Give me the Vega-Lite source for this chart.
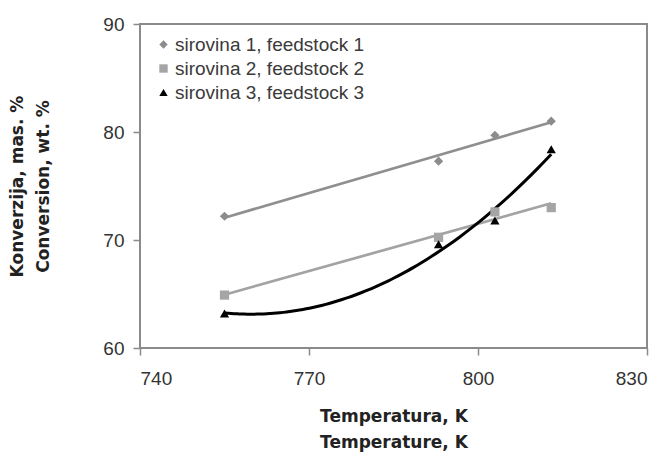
{
  "$schema": "https://vega.github.io/schema/vega-lite/v6.json",
  "autosize": "none",
  "width": 507,
  "height": 324,
  "padding": {"left": 140, "top": 24, "right": 19, "bottom": 112},
  "background": "white",
  "config": {
    "font": "Liberation Sans",
    "view": {"stroke": "#8a8a8a", "strokeWidth": 2},
    "axis": {"grid": false, "domain": false, "ticks": true, "tickColor": "#8a8a8a", "tickSize": 7, "tickWidth": 1.5, "labelFont": "Liberation Sans", "labelFontSize": 19, "labelColor": "#333333", "titleFont": "DejaVu Sans", "titleFontSize": 17, "titleFontWeight": "bold", "titleColor": "#222222", "titleLineHeight": 26}
  },
  "data": {"values": [
    {"T": 755, "conv": 72.2, "series": "sirovina 1, feedstock 1"},
    {"T": 793, "conv": 77.3, "series": "sirovina 1, feedstock 1"},
    {"T": 803, "conv": 79.7, "series": "sirovina 1, feedstock 1"},
    {"T": 813, "conv": 81.0, "series": "sirovina 1, feedstock 1"},
    {"T": 755, "conv": 64.9, "series": "sirovina 2, feedstock 2"},
    {"T": 793, "conv": 70.25, "series": "sirovina 2, feedstock 2"},
    {"T": 803, "conv": 72.6, "series": "sirovina 2, feedstock 2"},
    {"T": 813, "conv": 73.0, "series": "sirovina 2, feedstock 2"},
    {"T": 755, "conv": 63.2, "series": "sirovina 3, feedstock 3"},
    {"T": 793, "conv": 69.6, "series": "sirovina 3, feedstock 3"},
    {"T": 803, "conv": 71.8, "series": "sirovina 3, feedstock 3"},
    {"T": 813, "conv": 78.4, "series": "sirovina 3, feedstock 3"}
  ]},
  "layer": [
    {
      "transform": [{"filter": "datum.series === 'sirovina 1, feedstock 1'"}, {"regression": "conv", "on": "T", "method": "linear"}],
      "mark": {"type": "line", "color": "#8f8f8f", "strokeWidth": 2.7},
      "encoding": {"x": {"field": "T", "type": "quantitative"}, "y": {"field": "conv", "type": "quantitative"}}
    },
    {
      "transform": [{"filter": "datum.series === 'sirovina 2, feedstock 2'"}, {"regression": "conv", "on": "T", "method": "linear"}],
      "mark": {"type": "line", "color": "#a3a3a3", "strokeWidth": 2.7},
      "encoding": {"x": {"field": "T", "type": "quantitative"}, "y": {"field": "conv", "type": "quantitative"}}
    },
    {
      "transform": [{"filter": "datum.series === 'sirovina 3, feedstock 3'"}, {"regression": "conv", "on": "T", "method": "poly", "order": 2}],
      "mark": {"type": "line", "color": "#000000", "strokeWidth": 3, "interpolate": "monotone"},
      "encoding": {"x": {"field": "T", "type": "quantitative"}, "y": {"field": "conv", "type": "quantitative"}}
    },
    {
      "mark": {"type": "point", "filled": true, "opacity": 1, "size": 85},
      "encoding": {
        "x": {"field": "T", "type": "quantitative", "scale": {"domain": [740, 830], "nice": false, "zero": false}, "axis": {"values": [740, 770, 800, 830], "labelPadding": 14, "title": ["Temperatura, K", "Temperature, K"], "titlePadding": 20}},
        "y": {"field": "conv", "type": "quantitative", "scale": {"domain": [60, 90], "nice": false, "zero": false}, "axis": {"values": [60, 70, 80, 90], "labelPadding": 9, "title": ["Konverzija, mas. %", "Conversion,  wt. %"], "titlePadding": 50}},
        "color": {"field": "series", "type": "nominal", "scale": {"range": ["#8c8c8c", "#a5a5a5", "#000000"]}, "legend": {"title": null, "orient": "none", "legendX": 14, "legendY": 11, "labelFontSize": 19, "labelLimit": 0, "labelColor": "#3a3a3a", "labelFont": "Liberation Sans", "symbolSize": 70, "rowPadding": 4, "labelOffset": 2, "padding": 0}},
        "shape": {"field": "series", "type": "nominal", "scale": {"range": ["diamond", "square", "triangle-up"]}}
      }
    }
  ]
}
